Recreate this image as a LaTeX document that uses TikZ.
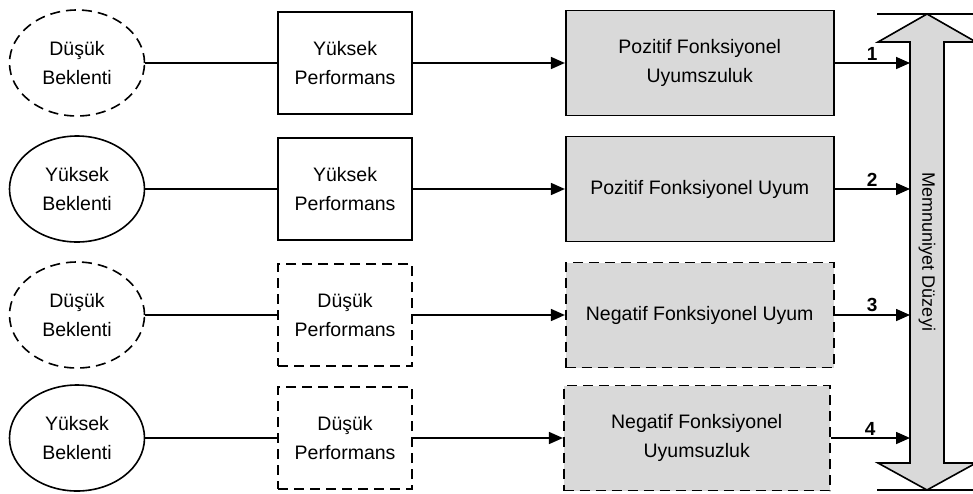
\documentclass[tikz,border=0pt]{standalone}
\usepackage{fontspec}
\setmainfont{Liberation Sans}
\usetikzlibrary{arrows.meta,positioning,shapes.geometric}
\definecolor{gri}{RGB}{217,217,217}

\tikzset{
    metin/.style={font=\fontsize{19.5}{28.5}\selectfont, align=center},
    kesikli/.style={dash pattern=on 10pt off 6pt},
    beklenti/.style={ellipse, draw, metin, minimum width=135pt, minimum height=106pt, inner sep=0pt},
    performans/.style={rectangle, draw, metin, minimum width=134pt, minimum height=102pt, inner sep=0pt},
    uyum/.style={rectangle, draw, fill=gri, metin, minimum width=268pt, minimum height=105pt, inner sep=0pt},
    sayi/.style={font=\fontsize{19}{20}\selectfont\bfseries, inner sep=2pt}
}

\begin{document}
\begin{tikzpicture}[x=1pt, y=-1pt, line width=1.6pt, >={Triangle[length=14pt,width=12pt]}]
    \useasboundingbox (0,0) rectangle (973,493);
    % beklenti - performans - uyum, satir satir
    \node[beklenti, kesikli] (beklenti 1) at (77,63) {Düşük\\Beklenti};
    \node[performans] (performans 1) [right=132pt of beklenti 1] {Yüksek\\Performans};
    \node[uyum] (uyum 1) [right=152pt of performans 1] {Pozitif Fonksiyonel\\Uyumszuluk};

    \node[beklenti] (beklenti 2) at (77,189) {Yüksek\\Beklenti};
    \node[performans] (performans 2) [right=132pt of beklenti 2] {Yüksek\\Performans};
    \node[uyum] (uyum 2) [right=152pt of performans 2] {Pozitif Fonksiyonel Uyum};

    \node[beklenti, kesikli] (beklenti 3) at (77,315) {Düşük\\Beklenti};
    \node[performans, kesikli] (performans 3) [right=132pt of beklenti 3] {Düşük\\Performans};
    \node[uyum, kesikli] (uyum 3) [right=152pt of performans 3] {Negatif Fonksiyonel Uyum};

    \node[beklenti] (beklenti 4) at (77,438) {Yüksek\\Beklenti};
    \node[performans, kesikli] (performans 4) [right=132pt of beklenti 4] {Düşük\\Performans};
    \node[uyum, kesikli, minimum width=266pt] (uyum 4) [right=150pt of performans 4] {Negatif Fonksiyonel\\Uyumsuzluk};

    % memnuniyet okunun govdesi ve uclari
    \draw[fill=gri] (910,463) -- (910,42) -- (878,42) -- (927,14) -- (976,42) -- (944,42)
        -- (944,463) -- (976,463) -- (927,490) -- (878,463) -- cycle;
    \draw (877,14) -- (973,14);
    \draw (877,490) -- (973,490);
    \node[metin, font=\fontsize{18}{20}\selectfont, rotate=-90] (duzey) at (927,252) {Memnuniyet Düzeyi};
    \coordinate (sol kenar) at (910,0);

    \draw (beklenti 1) -- (performans 1);
    \draw (beklenti 2) -- (performans 2);
    \draw (beklenti 3) -- (performans 3);
    \draw (beklenti 4) -- (performans 4);
    \draw [->] (performans 1) -- (uyum 1);
    \draw [->] (performans 2) -- (uyum 2);
    \draw [->] (performans 3) -- (uyum 3);
    \draw [->] (performans 4) -- (uyum 4);
    \draw [->] (uyum 1) -- node[sayi, above] (sayi 1) {1} (uyum 1 -| sol kenar);
    \draw [->] (uyum 2) -- node[sayi, above] (sayi 2) {2} (uyum 2 -| sol kenar);
    \draw [->] (uyum 3) -- node[sayi, above] (sayi 3) {3} (uyum 3 -| sol kenar);
    \draw [->] (uyum 4) -- node[sayi, above] (sayi 4) {4} (uyum 4 -| sol kenar);
\end{tikzpicture}
\end{document}
